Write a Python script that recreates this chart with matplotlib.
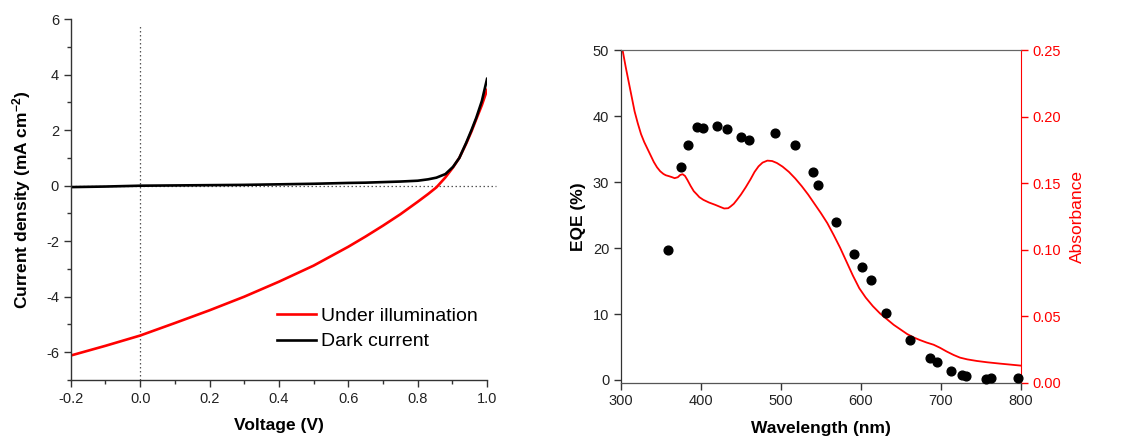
import numpy as np
import matplotlib
matplotlib.use("Agg")
import matplotlib.pyplot as plt
from matplotlib.ticker import MultipleLocator, FormatStrFormatter

plt.rcParams["font.family"] = ["Liberation Sans", "DejaVu Sans"]
plt.rcParams["axes.unicode_minus"] = False
plt.rcParams["mathtext.fontset"] = "custom"
plt.rcParams["mathtext.rm"] = "Liberation Sans:bold"
plt.rcParams["mathtext.it"] = "Liberation Sans:bold"
plt.rcParams["mathtext.bf"] = "Liberation Sans:bold"

# J-V data
voltage = [-0.2, -0.1, 0.0, 0.1, 0.2, 0.3, 0.4, 0.5, 0.6, 0.65, 0.7, 0.75,
           0.8, 0.83, 0.854, 0.88, 0.902, 0.92, 0.94, 0.955, 0.969, 0.985,
           1.0]
j_light = [-6.12, -5.77, -5.40, -4.95, -4.49, -4.00, -3.46, -2.88, -2.20,
           -1.83, -1.44, -1.03, -0.58, -0.30, -0.06, 0.30, 0.66, 1.00,
           1.52, 1.95, 2.40, 2.90, 3.45]
j_dark = [-0.05, -0.03, 0.0, 0.01, 0.02, 0.03, 0.05, 0.07, 0.10, 0.11,
          0.13, 0.15, 0.18, 0.23, 0.29, 0.42, 0.68, 1.00, 1.55, 2.00,
          2.45, 3.05, 3.85]

# EQE data
eqe_wl = [359, 375, 384, 395, 402, 420, 433, 450, 460, 493, 518, 540, 546,
          569, 591, 601, 613, 631, 662, 687, 695, 713, 726, 732, 757, 763, 797]
eqe = [19.7, 32.3, 35.7, 38.3, 38.2, 38.5, 38.1, 36.8, 36.4, 37.4, 35.6,
       31.5, 29.5, 24.0, 19.1, 17.1, 15.2, 10.1, 6.0, 3.4, 2.8, 1.4, 0.7,
       0.55, 0.2, 0.25, 0.25]

# absorbance spectrum
abs_wl = [299, 302, 306, 310, 314, 317, 321, 325, 329, 333, 337, 341, 345,
          349, 353, 356, 360, 364, 367, 371, 374, 377, 380, 383, 387, 391,
          395, 398, 403, 410, 418, 424, 429, 434, 437, 441, 445, 450, 456,
          462, 467, 472, 477, 483, 489, 495, 502, 510, 518, 526, 534, 542,
          550, 558, 566, 574, 582, 590, 598, 606, 615, 624, 633, 641, 650,
          658, 666, 674, 682, 691, 699, 707, 716, 724, 733, 745, 758, 774,
          788, 800]
absorbance = [0.262, 0.250, 0.237, 0.225, 0.213, 0.204, 0.195, 0.187,
              0.181, 0.176, 0.171, 0.166, 0.162, 0.159, 0.157, 0.156,
              0.1553, 0.1545, 0.1538, 0.1545, 0.1562, 0.1568, 0.1555,
              0.1525, 0.148, 0.144, 0.1415, 0.1395, 0.1375, 0.1355,
              0.1337, 0.1322, 0.131, 0.1312, 0.1325, 0.1345, 0.1375,
              0.1415, 0.147, 0.153, 0.1585, 0.1627, 0.1655, 0.167, 0.1667,
              0.1652, 0.1625, 0.1585, 0.1535, 0.1478, 0.1415, 0.1345,
              0.1275, 0.12, 0.111, 0.1015, 0.091, 0.0805, 0.071, 0.064,
              0.0575, 0.052, 0.0475, 0.0435, 0.0398, 0.0365, 0.034, 0.032,
              0.0302, 0.0285, 0.0262, 0.0235, 0.0208, 0.0188, 0.0175,
              0.0163, 0.0153, 0.0143, 0.0135, 0.0128]

fig = plt.figure(figsize=(11.23, 4.47), dpi=100)

tick_fs = 10.5
label_fs = 12.5

# ---- left panel: J-V ----
ax1 = fig.add_axes([0.0630, 0.150, 0.3707, 0.807])

ax1.axvline(0, color="#555555", linestyle=(0, (1.2, 2)), linewidth=0.9,
            ymax=0.985)
ax1.plot([-0.2, 1.025], [0, 0], color="#555555", linestyle=(0, (1.2, 2)),
         linewidth=0.9, clip_on=False)

ax1.plot(voltage, j_light, color="#ff0000", linewidth=1.9,
         label="Under illumination")
ax1.plot(voltage, j_dark, color="black", linewidth=1.9,
         label="Dark current")

ax1.set_xlim(-0.2, 1.0)
ax1.set_ylim(-7, 6)

ax1.xaxis.set_major_locator(MultipleLocator(0.2))
ax1.xaxis.set_minor_locator(MultipleLocator(0.1))
ax1.yaxis.set_major_locator(MultipleLocator(2))
ax1.yaxis.set_minor_locator(MultipleLocator(1))
ax1.xaxis.set_major_formatter(FormatStrFormatter("%.1f"))

ax1.spines["top"].set_visible(False)
ax1.spines["right"].set_visible(False)
for side in ["left", "bottom"]:
    ax1.spines[side].set_color("#333333")
    ax1.spines[side].set_linewidth(1.0)

ax1.tick_params(which="major", direction="out", length=5, width=1,
                color="#333333", labelsize=tick_fs, labelcolor="#222222")
ax1.tick_params(which="minor", direction="out", length=3, width=1,
                color="#333333")

ax1.set_xlabel("Voltage (V)", fontsize=label_fs, fontweight="bold",
               labelpad=9)
ax1.set_ylabel("Current density (mA cm$^{-2}$)", fontsize=label_fs,
               fontweight="bold", labelpad=9)

ax1.legend(loc="upper left", bbox_to_anchor=(0.495, 0.202), frameon=False,
           fontsize=14, handlelength=2.0, handletextpad=0.25,
           labelspacing=0.42, borderaxespad=0, borderpad=0)

# ---- right panel: EQE + absorbance ----
ax2 = fig.add_axes([0.553, 0.144, 0.356, 0.7435])
ax3 = ax2.twinx()

ax3.plot(abs_wl, absorbance, color="#ff0000", linewidth=1.3)
ax2.plot(eqe_wl, eqe, "o", color="black", markersize=6.3, zorder=3,
         clip_on=False)

ax2.set_zorder(ax3.get_zorder() + 1)
ax2.patch.set_visible(False)

ax2.set_xlim(300, 800)
ax2.set_ylim(-0.4, 50)
ax3.set_ylim(0, 0.25)

ax2.xaxis.set_major_locator(MultipleLocator(100))
ax2.yaxis.set_major_locator(MultipleLocator(10))
ax3.yaxis.set_major_locator(MultipleLocator(0.05))
ax3.yaxis.set_major_formatter(FormatStrFormatter("%.2f"))

ax2.spines["top"].set_color("#666666")
ax3.spines["top"].set_color("#666666")
ax2.spines["left"].set_color("#333333")
ax2.spines["bottom"].set_color("#555555")
ax3.spines["right"].set_color("#ff0000")
ax2.spines["right"].set_visible(False)

ax2.tick_params(direction="out", length=5, width=1, color="#333333",
                labelsize=tick_fs, labelcolor="#222222")
ax3.tick_params(direction="out", length=5, width=1, color="#ff0000",
                labelsize=tick_fs, labelcolor="#ff0000")

ax2.set_xlabel("Wavelength (nm)", fontsize=label_fs, fontweight="bold",
               labelpad=9)
ax2.set_ylabel("EQE (%)", fontsize=label_fs, fontweight="bold",
               labelpad=5)
ax3.set_ylabel("Absorbance", fontsize=label_fs, color="#ff0000",
               labelpad=6)

fig.savefig("out.png", dpi=100)
